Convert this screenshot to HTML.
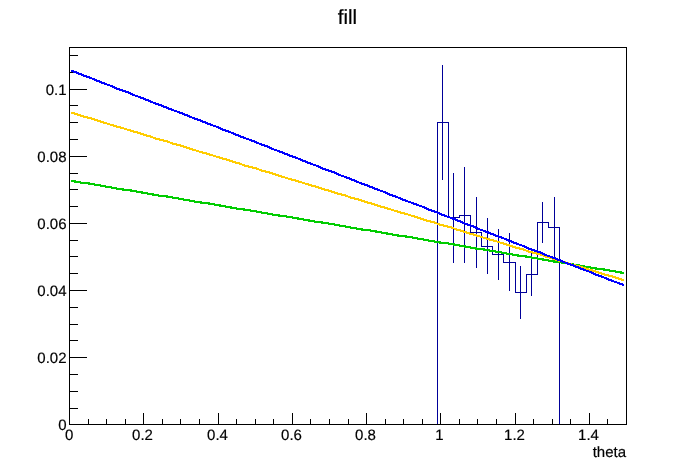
<!DOCTYPE html>
<html><head><meta charset="utf-8"><title>fill</title>
<style>
html,body{margin:0;padding:0;background:#fff;}
svg{display:block}
text{font-family:"Liberation Sans",sans-serif;font-size:15px;fill:#000;stroke:#000;stroke-width:0.18px;text-rendering:geometricPrecision}
</style></head><body>
<svg width="696" height="472" viewBox="0 0 696 472">
<rect width="696" height="472" fill="#fff"/>
<g shape-rendering="crispEdges">
<rect x="437" y="122" width="1" height="303" fill="#000099"/>
<rect x="437" y="122" width="12" height="1" fill="#000099"/>
<rect x="448" y="122" width="1" height="96" fill="#000099"/>
<rect x="448" y="217" width="12" height="1" fill="#000099"/>
<rect x="459" y="215" width="1" height="3" fill="#000099"/>
<rect x="459" y="215" width="12" height="1" fill="#000099"/>
<rect x="470" y="215" width="1" height="18" fill="#000099"/>
<rect x="470" y="232" width="12" height="1" fill="#000099"/>
<rect x="481" y="232" width="1" height="15" fill="#000099"/>
<rect x="481" y="246" width="12" height="1" fill="#000099"/>
<rect x="492" y="246" width="1" height="9" fill="#000099"/>
<rect x="492" y="254" width="12" height="1" fill="#000099"/>
<rect x="503" y="254" width="1" height="9" fill="#000099"/>
<rect x="503" y="262" width="13" height="1" fill="#000099"/>
<rect x="515" y="262" width="1" height="31" fill="#000099"/>
<rect x="515" y="292" width="12" height="1" fill="#000099"/>
<rect x="526" y="274" width="1" height="19" fill="#000099"/>
<rect x="526" y="274" width="12" height="1" fill="#000099"/>
<rect x="537" y="222" width="1" height="53" fill="#000099"/>
<rect x="537" y="222" width="12" height="1" fill="#000099"/>
<rect x="548" y="222" width="1" height="6" fill="#000099"/>
<rect x="548" y="227" width="12" height="1" fill="#000099"/>
<rect x="559" y="227" width="1" height="197" fill="#000099"/>
<rect x="442" y="65" width="1" height="115" fill="#000099"/>
<rect x="453" y="173" width="1" height="90" fill="#000099"/>
<rect x="464" y="167" width="1" height="96" fill="#000099"/>
<rect x="476" y="197" width="1" height="71" fill="#000099"/>
<rect x="487" y="218" width="1" height="56" fill="#000099"/>
<rect x="498" y="229" width="1" height="51" fill="#000099"/>
<rect x="509" y="233" width="1" height="58" fill="#000099"/>
<rect x="520" y="266" width="1" height="53" fill="#000099"/>
<rect x="531" y="252" width="1" height="44" fill="#000099"/>
<rect x="542" y="202" width="1" height="41" fill="#000099"/>
<rect x="554" y="197" width="1" height="61" fill="#000099"/>
<rect x="69" y="47" width="558" height="1" fill="#000"/>
<rect x="69" y="424" width="558" height="1" fill="#000"/>
<rect x="69" y="47" width="1" height="378" fill="#000"/>
<rect x="626" y="47" width="1" height="378" fill="#000"/>
<rect x="69" y="413" width="1" height="11" fill="#000"/>
<rect x="88" y="419" width="1" height="5" fill="#000"/>
<rect x="106" y="419" width="1" height="5" fill="#000"/>
<rect x="125" y="419" width="1" height="5" fill="#000"/>
<rect x="143" y="413" width="1" height="11" fill="#000"/>
<rect x="162" y="419" width="1" height="5" fill="#000"/>
<rect x="180" y="419" width="1" height="5" fill="#000"/>
<rect x="199" y="419" width="1" height="5" fill="#000"/>
<rect x="218" y="413" width="1" height="11" fill="#000"/>
<rect x="236" y="419" width="1" height="5" fill="#000"/>
<rect x="255" y="419" width="1" height="5" fill="#000"/>
<rect x="273" y="419" width="1" height="5" fill="#000"/>
<rect x="292" y="413" width="1" height="11" fill="#000"/>
<rect x="310" y="419" width="1" height="5" fill="#000"/>
<rect x="329" y="419" width="1" height="5" fill="#000"/>
<rect x="348" y="419" width="1" height="5" fill="#000"/>
<rect x="366" y="413" width="1" height="11" fill="#000"/>
<rect x="385" y="419" width="1" height="5" fill="#000"/>
<rect x="403" y="419" width="1" height="5" fill="#000"/>
<rect x="422" y="419" width="1" height="5" fill="#000"/>
<rect x="440" y="413" width="1" height="11" fill="#000"/>
<rect x="459" y="419" width="1" height="5" fill="#000"/>
<rect x="477" y="419" width="1" height="5" fill="#000"/>
<rect x="496" y="419" width="1" height="5" fill="#000"/>
<rect x="515" y="413" width="1" height="11" fill="#000"/>
<rect x="533" y="419" width="1" height="5" fill="#000"/>
<rect x="552" y="419" width="1" height="5" fill="#000"/>
<rect x="570" y="419" width="1" height="5" fill="#000"/>
<rect x="589" y="413" width="1" height="11" fill="#000"/>
<rect x="607" y="419" width="1" height="5" fill="#000"/>
<rect x="626" y="419" width="1" height="5" fill="#000"/>
<rect x="69" y="424" width="18" height="1" fill="#000"/>
<rect x="69" y="408" width="9" height="1" fill="#000"/>
<rect x="69" y="391" width="9" height="1" fill="#000"/>
<rect x="69" y="374" width="9" height="1" fill="#000"/>
<rect x="69" y="357" width="18" height="1" fill="#000"/>
<rect x="69" y="340" width="9" height="1" fill="#000"/>
<rect x="69" y="324" width="9" height="1" fill="#000"/>
<rect x="69" y="307" width="9" height="1" fill="#000"/>
<rect x="69" y="290" width="18" height="1" fill="#000"/>
<rect x="69" y="273" width="9" height="1" fill="#000"/>
<rect x="69" y="256" width="9" height="1" fill="#000"/>
<rect x="69" y="240" width="9" height="1" fill="#000"/>
<rect x="69" y="223" width="18" height="1" fill="#000"/>
<rect x="69" y="206" width="9" height="1" fill="#000"/>
<rect x="69" y="189" width="9" height="1" fill="#000"/>
<rect x="69" y="173" width="9" height="1" fill="#000"/>
<rect x="69" y="156" width="18" height="1" fill="#000"/>
<rect x="69" y="139" width="9" height="1" fill="#000"/>
<rect x="69" y="122" width="9" height="1" fill="#000"/>
<rect x="69" y="105" width="9" height="1" fill="#000"/>
<rect x="69" y="89" width="18" height="1" fill="#000"/>
<rect x="69" y="72" width="9" height="1" fill="#000"/>
<rect x="69" y="55" width="9" height="1" fill="#000"/>
<polyline points="71.0,180.77 72.5,181.0 77.5,182.0 83.5,183.0 89.5,183.5 94.5,184.5 100.5,185.5 105.5,186.5 111.5,187.5 116.5,188.5 122.5,189.5 128.5,190.0 133.5,191.0 139.5,192.0 144.5,193.0 150.5,194.0 155.5,195.0 161.5,196.0 167.5,196.5 172.5,197.5 178.5,198.5 183.5,199.5 189.5,200.5 194.5,201.5 200.5,202.5 206.5,203.0 211.5,204.0 217.5,205.0 222.5,206.0 228.5,207.0 233.5,208.0 239.5,209.0 244.5,209.5 250.5,210.5 256.5,211.5 261.5,212.5 267.5,213.5 272.5,214.5 278.5,215.5 283.5,216.0 289.5,217.0 295.5,218.0 300.5,219.0 306.5,220.0 311.5,221.0 317.5,222.0 322.5,222.5 328.5,223.5 334.5,224.5 339.5,225.5 345.5,226.5 350.5,227.5 356.5,228.5 361.5,229.5 367.5,230.0 373.5,231.0 378.5,232.0 384.5,233.0 389.5,234.0 395.5,235.0 400.5,236.0 406.5,236.5 412.5,237.5 417.5,238.5 423.5,239.5 428.5,240.5 434.5,241.5 439.5,242.5 445.5,243.0 451.5,244.0 456.5,245.0 462.5,246.0 467.5,247.0 473.5,248.0 478.5,249.0 484.5,249.5 489.5,250.5 495.5,251.5 501.5,252.5 506.5,253.5 512.5,254.5 517.5,255.5 523.5,256.0 528.5,257.0 534.5,258.0 540.5,259.0 545.5,260.0 551.5,261.0 556.5,262.0 562.5,262.5 567.5,263.5 573.5,264.5 579.5,265.5 584.5,266.5 590.5,267.5 595.5,268.5 601.5,269.0 606.5,270.0 612.5,271.0 618.5,272.0 623.5,273.0 624.0,272.98" fill="none" stroke="#00cc00" stroke-width="2.2" stroke-linejoin="round" stroke-linecap="butt" shape-rendering="crispEdges"/>
<polyline points="71.0,112.70 72.5,113.0 77.5,114.5 83.5,116.5 89.5,118.0 94.5,119.5 100.5,121.5 105.5,123.0 111.5,125.0 116.5,126.5 122.5,128.0 128.5,130.0 133.5,131.5 139.5,133.0 144.5,135.0 150.5,136.5 155.5,138.5 161.5,140.0 167.5,141.5 172.5,143.5 178.5,145.0 183.5,146.5 189.5,148.5 194.5,150.0 200.5,152.0 206.5,153.5 211.5,155.0 217.5,157.0 222.5,158.5 228.5,160.0 233.5,162.0 239.5,163.5 244.5,165.5 250.5,167.0 256.5,168.5 261.5,170.5 267.5,172.0 272.5,173.5 278.5,175.5 283.5,177.0 289.5,179.0 295.5,180.5 300.5,182.0 306.5,184.0 311.5,185.5 317.5,187.0 322.5,189.0 328.5,190.5 334.5,192.5 339.5,194.0 345.5,195.5 350.5,197.5 356.5,199.0 361.5,200.5 367.5,202.5 373.5,204.0 378.5,206.0 384.5,207.5 389.5,209.0 395.5,211.0 400.5,212.5 406.5,214.0 412.5,216.0 417.5,217.5 423.5,219.5 428.5,221.0 434.5,222.5 439.5,224.5 445.5,226.0 451.5,227.5 456.5,229.5 462.5,231.0 467.5,233.0 473.5,234.5 478.5,236.0 484.5,238.0 489.5,239.5 495.5,241.0 501.5,243.0 506.5,244.5 512.5,246.5 517.5,248.0 523.5,249.5 528.5,251.5 534.5,253.0 540.5,254.5 545.5,256.5 551.5,258.0 556.5,260.0 562.5,261.5 567.5,263.0 573.5,265.0 579.5,266.5 584.5,268.0 590.5,270.0 595.5,271.5 601.5,273.5 606.5,275.0 612.5,276.5 618.5,278.5 623.5,280.0 624.0,280.09" fill="none" stroke="#ffcc00" stroke-width="2.2" stroke-linejoin="round" stroke-linecap="butt" shape-rendering="crispEdges"/>
<polyline points="71.0,70.66 72.5,71.0 77.5,73.0 83.5,75.5 89.5,77.5 94.5,79.5 100.5,82.0 105.5,84.0 111.5,86.0 116.5,88.5 122.5,90.5 128.5,92.5 133.5,95.0 139.5,97.0 144.5,99.0 150.5,101.5 155.5,103.5 161.5,105.5 167.5,108.0 172.5,110.0 178.5,112.0 183.5,114.0 189.5,116.5 194.5,118.5 200.5,120.5 206.5,123.0 211.5,125.0 217.5,127.0 222.5,129.5 228.5,131.5 233.5,133.5 239.5,136.0 244.5,138.0 250.5,140.0 256.5,142.5 261.5,144.5 267.5,146.5 272.5,149.0 278.5,151.0 283.5,153.0 289.5,155.5 295.5,157.5 300.5,159.5 306.5,162.0 311.5,164.0 317.5,166.0 322.5,168.5 328.5,170.5 334.5,172.5 339.5,175.0 345.5,177.0 350.5,179.0 356.5,181.5 361.5,183.5 367.5,185.5 373.5,188.0 378.5,190.0 384.5,192.0 389.5,194.5 395.5,196.5 400.5,198.5 406.5,201.0 412.5,203.0 417.5,205.0 423.5,207.0 428.5,209.5 434.5,211.5 439.5,213.5 445.5,216.0 451.5,218.0 456.5,220.0 462.5,222.5 467.5,224.5 473.5,226.5 478.5,229.0 484.5,231.0 489.5,233.0 495.5,235.5 501.5,237.5 506.5,239.5 512.5,242.0 517.5,244.0 523.5,246.0 528.5,248.5 534.5,250.5 540.5,252.5 545.5,255.0 551.5,257.0 556.5,259.0 562.5,261.5 567.5,263.5 573.5,265.5 579.5,268.0 584.5,270.0 590.5,272.0 595.5,274.5 601.5,276.5 606.5,278.5 612.5,281.0 618.5,283.0 623.5,285.0 624.0,285.16" fill="none" stroke="#0000ff" stroke-width="2.2" stroke-linejoin="round" stroke-linecap="butt" shape-rendering="crispEdges"/>
</g>
<g>
<text transform="translate(69.2,440) scale(1,1)" text-anchor="middle">0</text>
<text transform="translate(142.5,440) scale(1,1)" text-anchor="middle">0.2</text>
<text transform="translate(217.5,440) scale(1,1)" text-anchor="middle">0.4</text>
<text transform="translate(291.5,440) scale(1,1)" text-anchor="middle">0.6</text>
<text transform="translate(365.5,440) scale(1,1)" text-anchor="middle">0.8</text>
<text transform="translate(439.5,440) scale(1,1)" text-anchor="middle">1</text>
<text transform="translate(514.5,440) scale(1,1)" text-anchor="middle">1.2</text>
<text transform="translate(588.5,440) scale(1,1)" text-anchor="middle">1.4</text>
<text transform="translate(66.5,430.1) scale(1,1)" text-anchor="end">0</text>
<text transform="translate(66.5,363.1) scale(1,1)" text-anchor="end">0.02</text>
<text transform="translate(66.5,296.1) scale(1,1)" text-anchor="end">0.04</text>
<text transform="translate(66.5,229.1) scale(1,1)" text-anchor="end">0.06</text>
<text transform="translate(66.5,162.1) scale(1,1)" text-anchor="end">0.08</text>
<text transform="translate(66.5,95.1) scale(1,1)" text-anchor="end">0.1</text>
<text x="626" y="457" text-anchor="end">theta</text>
<text x="347.5" y="23.7" text-anchor="middle" style="font-size:20.5px;stroke-width:0.22px">fill</text>
</g>
</svg>
</body></html>
